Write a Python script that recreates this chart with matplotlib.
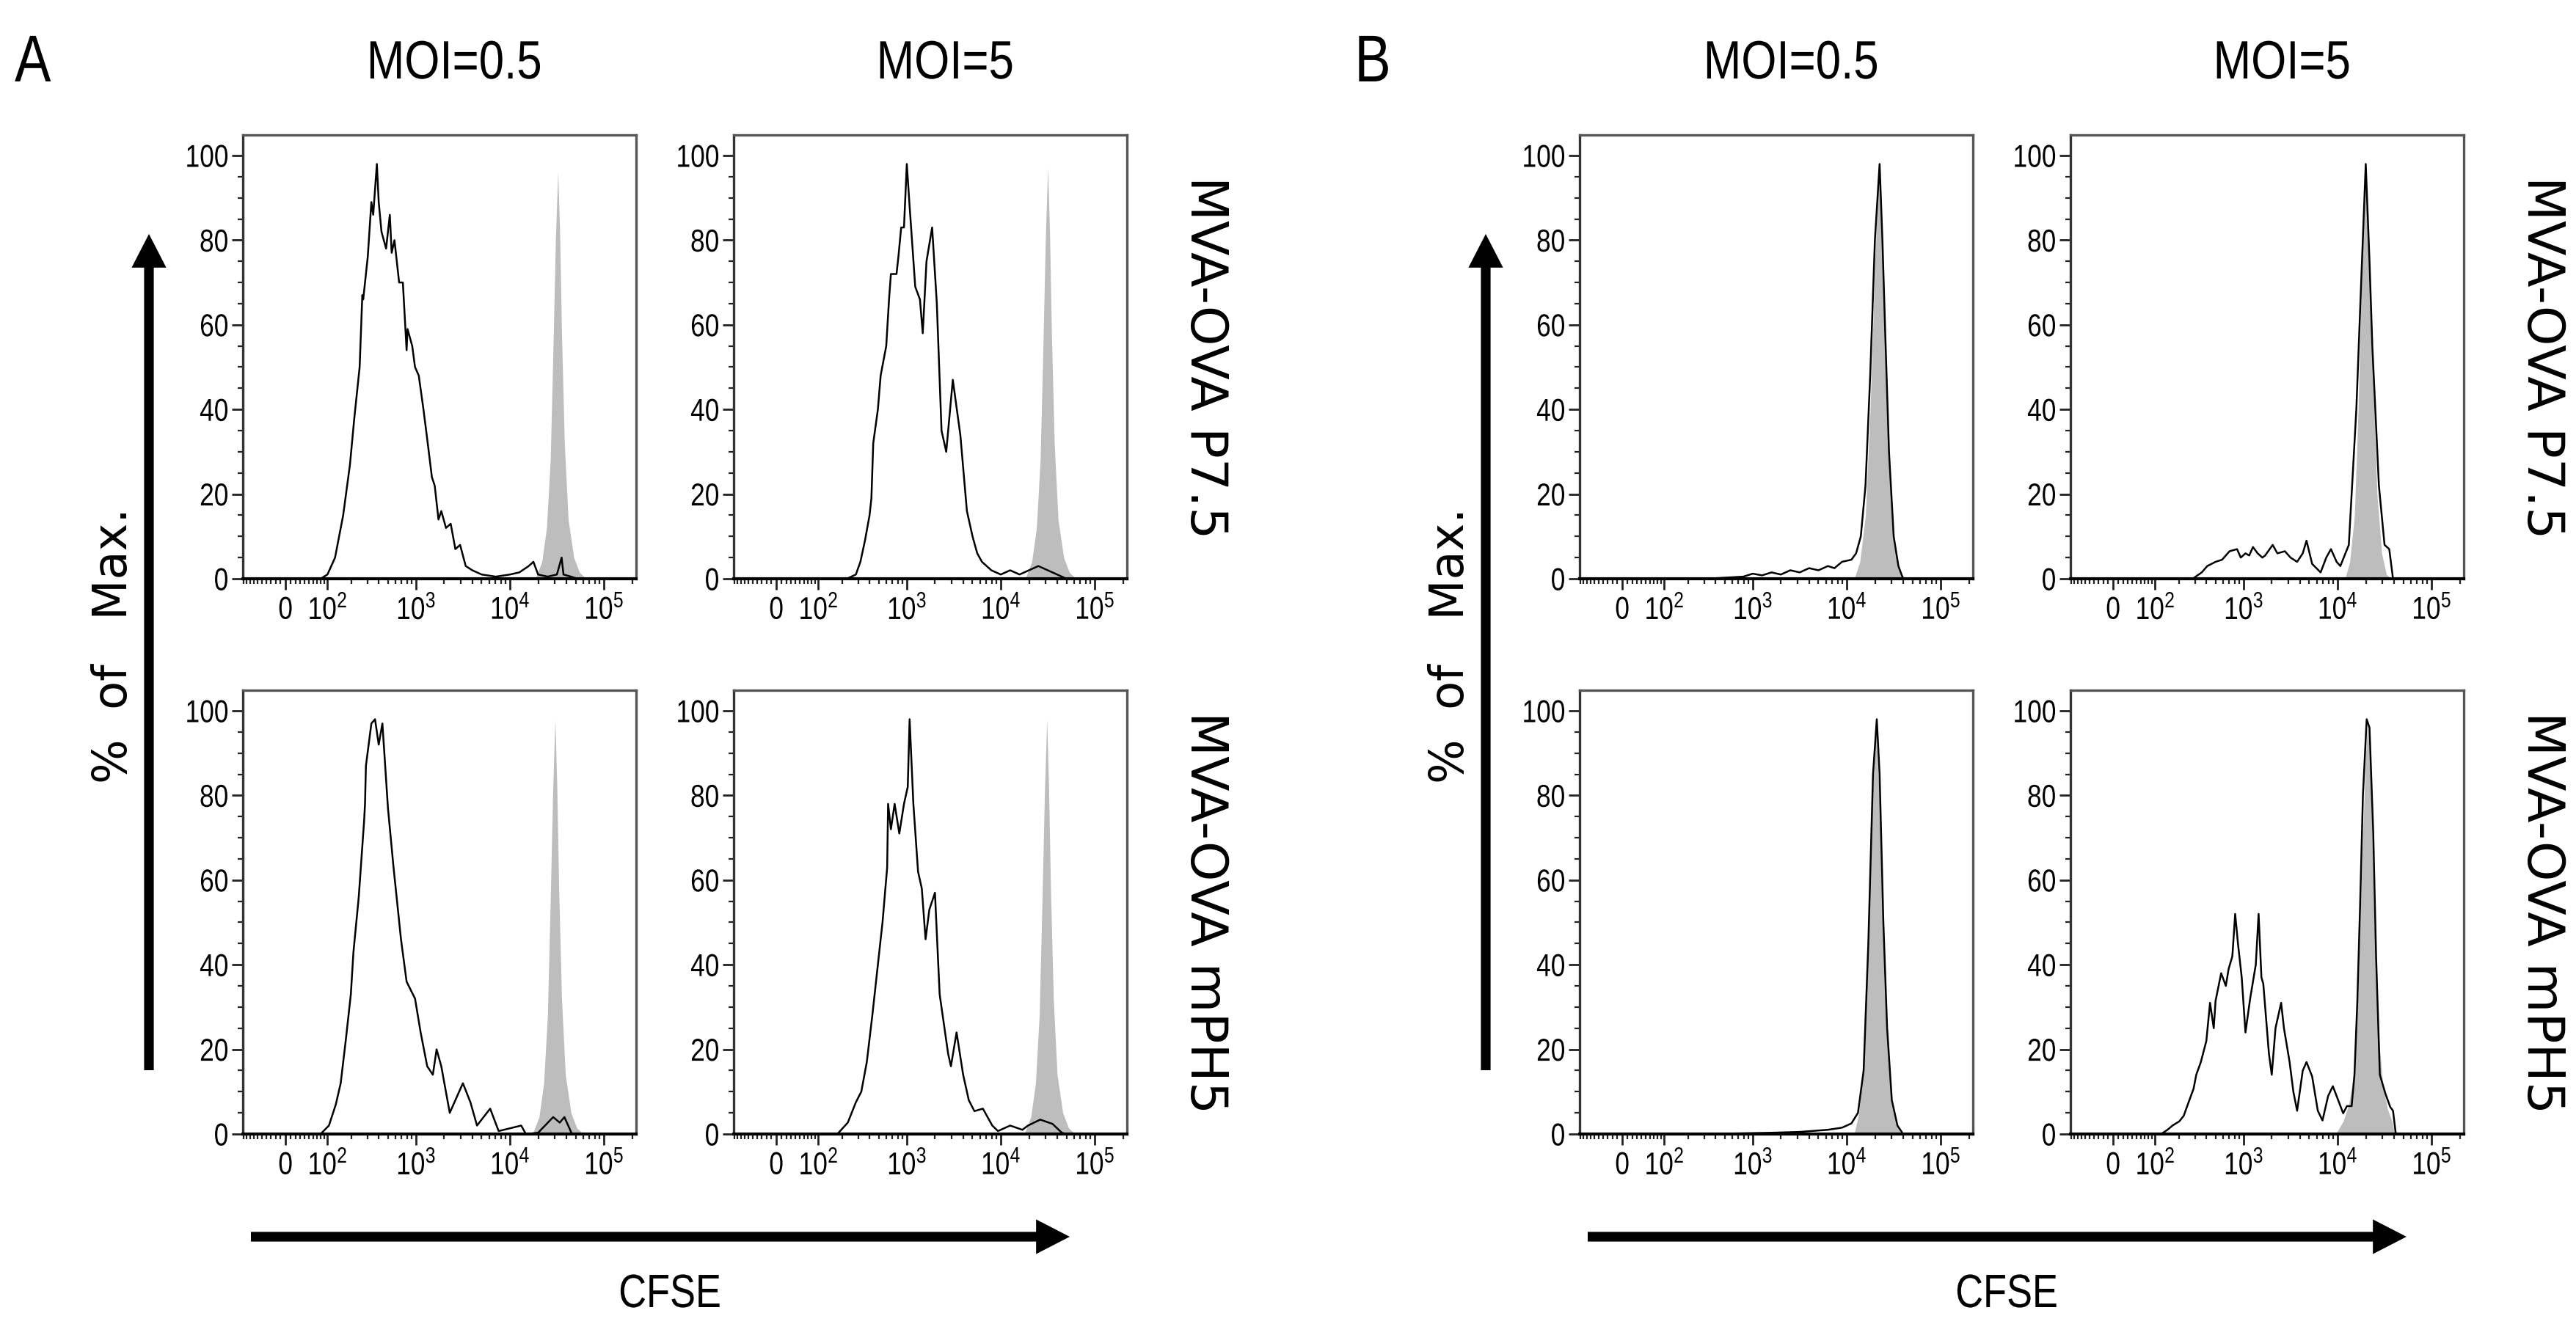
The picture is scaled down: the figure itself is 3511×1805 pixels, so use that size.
import numpy as np
import matplotlib
matplotlib.use("Agg")
import matplotlib.pyplot as plt
from matplotlib.patches import FancyArrowPatch
from matplotlib.patheffects import AbstractPathEffect
from matplotlib.transforms import Affine2D
from matplotlib.ticker import FixedLocator, FixedFormatter

plt.rcParams['font.family'] = ['Liberation Sans', 'DejaVu Sans']
plt.rcParams['mathtext.fontset'] = 'custom'
plt.rcParams['mathtext.rm'] = 'Liberation Sans'
plt.rcParams['mathtext.it'] = 'Liberation Sans'
plt.rcParams['mathtext.bf'] = 'Liberation Sans'

# ---- data (CFSE as log10 value, % of max) ----
CFSE_MIN = -100
CFSE_MAX = 220000

moi_labels = ["MOI=0.5", "MOI=5"]
row_labels = ["MVA-OVA P7.5", "MVA-OVA mPH5"]
xtick_vals = [0, 1e2, 1e3, 1e4, 1e5]
xtick_labels = ["0", r"$10^{2}$", r"$10^{3}$", r"$10^{4}$", r"$10^{5}$"]
ytick_vals = [0, 20, 40, 60, 80, 100]

# panel A, row P7.5, MOI 0.5
a_p75_m05_log = [1.9, 2.0, 2.1, 2.2, 2.28, 2.33, 2.39, 2.42, 2.43, 2.48, 2.52, 2.54, 2.58, 2.60, 2.63,
                 2.68, 2.72, 2.74, 2.77, 2.82, 2.86, 2.90, 2.91, 2.96, 2.99, 3.03, 3.08, 3.12, 3.17,
                 3.20, 3.24, 3.27, 3.32, 3.37, 3.42, 3.47, 3.53, 3.60, 3.70, 3.85, 4.0, 4.1, 4.2,
                 4.25, 4.3, 4.4, 4.5, 4.55, 4.57, 4.65, 4.72]
a_p75_m05_pct = [0, 1, 5, 15, 27, 38, 50, 67, 66, 76, 89, 86, 98, 89, 82,
                 78, 86, 77, 80, 70, 70, 54, 59, 55, 50, 48, 40, 33, 24,
                 22, 14, 16, 12, 13, 7, 8, 3, 2, 1, 0.5, 1, 1.5, 3,
                 4, 1, 0.5, 1, 5, 1, 0.5, 0]
a_p75_m05_ctl_log = [4.27, 4.34, 4.39, 4.43, 4.46, 4.485, 4.51, 4.53, 4.55, 4.58, 4.62, 4.68, 4.74, 4.81]
a_p75_m05_ctl_pct = [0, 4, 12, 28, 55, 80, 96, 82, 58, 32, 14, 5, 1.5, 0]

# panel A, row P7.5, MOI 5
a_p75_m5_log = [2.35, 2.45, 2.5, 2.55, 2.6, 2.62, 2.64, 2.69, 2.72, 2.78, 2.81, 2.83, 2.89, 2.91, 2.94,
                2.97, 3.0, 3.03, 3.09, 3.14, 3.17, 3.21, 3.27, 3.32, 3.37, 3.42, 3.49, 3.57, 3.64,
                3.7, 3.75, 3.8, 3.85, 3.9, 4.0, 4.1, 4.2, 4.3, 4.4, 4.5, 4.6, 4.7]
a_p75_m5_pct = [0, 1, 4, 9, 15, 19, 32, 40, 48, 55, 66, 72, 72, 76, 83,
                83, 98, 88, 69, 66, 58, 75, 83, 65, 35, 30, 47, 34, 16,
                10, 6, 4, 3, 2, 1, 2, 1, 2, 3, 2, 1, 0]
a_p75_m5_ctl_log = [4.26, 4.33, 4.38, 4.42, 4.45, 4.475, 4.50, 4.52, 4.54, 4.57, 4.61, 4.67, 4.73, 4.80]
a_p75_m5_ctl_pct = [0, 4, 12, 28, 55, 80, 97, 82, 58, 32, 14, 5, 1.5, 0]

# panel A, row mPH5, MOI 0.5
a_ph5_m05_log = [1.9, 2.02, 2.11, 2.17, 2.23, 2.29, 2.32, 2.38, 2.44, 2.45, 2.46, 2.52, 2.56, 2.6, 2.64,
                 2.7, 2.76, 2.84, 2.9, 2.99, 3.05, 3.12, 3.18, 3.22, 3.27, 3.36, 3.5, 3.58, 3.65,
                 3.79, 3.88, 4.01, 4.12, 4.17, 4.3, 4.46, 4.53, 4.58, 4.66]
a_ph5_m05_pct = [0, 2, 7, 12, 22, 33, 43, 56, 74, 78, 87, 97, 98, 92, 97,
                 77, 63, 46, 36, 32, 24, 16, 14, 20, 16, 5, 12, 7.5, 2,
                 6, 0.7, 1.4, 2, 0, 0.3, 4, 2.7, 4, 0]
a_ph5_m05_ctl_log = [4.24, 4.31, 4.36, 4.40, 4.43, 4.455, 4.48, 4.50, 4.52, 4.55, 4.59, 4.65, 4.71, 4.78]
a_ph5_m05_ctl_pct = [0, 4, 12, 28, 55, 80, 98, 82, 58, 32, 14, 5, 1.5, 0]

# panel A, row mPH5, MOI 5
a_ph5_m5_log = [2.24, 2.36, 2.45, 2.51, 2.57, 2.63, 2.69, 2.74, 2.79, 2.8, 2.83, 2.87, 2.92, 2.97, 3.01,
                3.03, 3.07, 3.12, 3.16, 3.2, 3.24, 3.3, 3.35, 3.44, 3.47, 3.53, 3.6, 3.66, 3.72,
                3.81, 3.91, 3.97, 4.1, 4.23, 4.29, 4.42, 4.55, 4.65, 4.7]
a_ph5_m5_pct = [0, 2.7, 7.5, 10, 17, 28, 40, 50, 63, 78, 72, 78, 71, 78, 82,
                98, 78, 62, 58, 46, 53, 57, 33, 19, 16, 24, 14, 8, 5.4,
                6, 2, 0.7, 2, 1, 2, 3.4, 2.4, 0.3, 0]
a_ph5_m5_ctl_log = [4.25, 4.32, 4.37, 4.41, 4.44, 4.465, 4.49, 4.51, 4.53, 4.56, 4.60, 4.66, 4.72, 4.79]
a_ph5_m5_ctl_pct = [0, 4, 12, 28, 55, 80, 98, 82, 58, 32, 14, 5, 1.5, 0]

# panel B, row P7.5, MOI 0.5
b_p75_m05_log = [2.5, 2.9, 3.0, 3.1, 3.2, 3.3, 3.4, 3.5, 3.6, 3.7, 3.8, 3.87, 3.95, 4.05, 4.10,
                 4.15, 4.2, 4.25, 4.3, 4.35, 4.38, 4.41, 4.45, 4.5, 4.55, 4.6]
b_p75_m05_pct = [0, 0.5, 1.2, 0.8, 1.5, 1, 2, 1.5, 2.5, 2, 3, 2.5, 4, 4.5, 6,
                 10, 22, 48, 80, 98, 80, 58, 30, 10, 3, 0]
b_p75_m05_ctl_log = [4.08, 4.14, 4.2, 4.25, 4.3, 4.34, 4.38, 4.42, 4.46, 4.5, 4.56, 4.62]
b_p75_m05_ctl_pct = [0, 4, 15, 40, 75, 95, 78, 50, 22, 8, 2, 0]

# panel B, row P7.5, MOI 5
b_p75_m5_log = [2.45, 2.55, 2.61, 2.7, 2.77, 2.85, 2.93, 2.97, 3.02, 3.06, 3.10, 3.15, 3.2, 3.23, 3.31,
                3.36, 3.44, 3.5, 3.57, 3.63, 3.67, 3.73, 3.82, 3.88, 3.93, 3.99, 4.03, 4.12, 4.2,
                4.26, 4.30, 4.34, 4.37, 4.44, 4.5, 4.55, 4.59]
b_p75_m5_pct = [0, 1.5, 3, 4, 4.5, 6.5, 7, 5, 6, 5.5, 7.5, 6, 5, 5.5, 8,
                6, 6.5, 5, 4, 6, 9, 3.5, 1.5, 5, 7, 4, 3, 8, 40,
                75, 98, 75, 55, 22, 8, 7, 0]
b_p75_m5_ctl_log = [4.08, 4.13, 4.18, 4.22, 4.26, 4.30, 4.34, 4.38, 4.42, 4.47, 4.52, 4.57]
b_p75_m5_ctl_pct = [0, 4, 15, 40, 75, 95, 75, 45, 20, 6, 1, 0]

# panel B, row mPH5, MOI 0.5
b_ph5_m05_log = [2.5, 3.2, 3.5, 3.8, 3.95, 4.05, 4.12, 4.18, 4.23, 4.28, 4.32, 4.35, 4.39, 4.43, 4.48,
                 4.54, 4.6]
b_ph5_m05_pct = [0, 0.3, 0.5, 1, 1.5, 2.5, 5, 15, 45, 85, 98, 85, 50, 25, 8,
                 2, 0]
b_ph5_m05_ctl_log = [4.08, 4.13, 4.18, 4.23, 4.27, 4.31, 4.35, 4.39, 4.43, 4.48, 4.53, 4.58]
b_ph5_m05_ctl_pct = [0, 5, 16, 45, 78, 96, 78, 48, 22, 7, 2, 0]

# panel B, row mPH5, MOI 5
b_ph5_m5_log = [2.08, 2.16, 2.22, 2.30, 2.35, 2.41, 2.46, 2.49, 2.54, 2.60, 2.64, 2.68, 2.70, 2.76, 2.81,
                2.84, 2.88, 2.91, 2.94, 2.98, 3.02, 3.07, 3.13, 3.16, 3.19, 3.21, 3.27, 3.30, 3.34,
                3.40, 3.43, 3.49, 3.53, 3.57, 3.63, 3.67, 3.73, 3.79, 3.84, 3.90, 3.95, 4.00, 4.06,
                4.10, 4.15, 4.18, 4.21, 4.24, 4.27, 4.31, 4.34, 4.38, 4.41, 4.45, 4.51, 4.56, 4.59, 4.62]
b_ph5_m5_pct = [0, 1, 2, 3, 4.3, 7.8, 10.7, 14, 17, 22, 31, 25, 31.5, 38, 35,
                39, 42, 52, 45, 37, 24, 32, 40, 52, 37, 35.5, 19, 14, 25,
                31, 25, 17, 10, 5.5, 15, 17, 13.6, 5.5, 3.2, 9, 11.3, 8.4, 4.9,
                6.6, 6.6, 14, 31, 54, 80, 98, 96, 71, 42, 14, 9.5, 6.4, 5.5, 0]
b_ph5_m5_ctl_log = [3.98, 4.06, 4.12, 4.18, 4.22, 4.26, 4.30, 4.32, 4.35, 4.39, 4.43, 4.48, 4.53, 4.58, 4.61]
b_ph5_m5_ctl_pct = [0, 3, 7, 15, 35, 65, 90, 97, 85, 50, 25, 12, 6, 3, 0]

panels = {
    ("A", 0, 0): (a_p75_m05_log, a_p75_m05_pct, a_p75_m05_ctl_log, a_p75_m05_ctl_pct),
    ("A", 0, 1): (a_p75_m5_log, a_p75_m5_pct, a_p75_m5_ctl_log, a_p75_m5_ctl_pct),
    ("A", 1, 0): (a_ph5_m05_log, a_ph5_m05_pct, a_ph5_m05_ctl_log, a_ph5_m05_ctl_pct),
    ("A", 1, 1): (a_ph5_m5_log, a_ph5_m5_pct, a_ph5_m5_ctl_log, a_ph5_m5_ctl_pct),
    ("B", 0, 0): (b_p75_m05_log, b_p75_m05_pct, b_p75_m05_ctl_log, b_p75_m05_ctl_pct),
    ("B", 0, 1): (b_p75_m5_log, b_p75_m5_pct, b_p75_m5_ctl_log, b_p75_m5_ctl_pct),
    ("B", 1, 0): (b_ph5_m05_log, b_ph5_m05_pct, b_ph5_m05_ctl_log, b_ph5_m05_ctl_pct),
    ("B", 1, 1): (b_ph5_m5_log, b_ph5_m5_pct, b_ph5_m5_ctl_log, b_ph5_m5_ctl_pct),
}


class Narrow(AbstractPathEffect):
    """squeeze text glyphs sideways (no condensed font installed)"""

    def __init__(self, sx=0.82, anchor='center'):
        super().__init__()
        self.sx = sx
        self.anchor = anchor

    def draw_path(self, renderer, gc, tpath, affine, rgbFace=None):
        ext = tpath.get_extents()
        if self.anchor == 'right':
            cx = ext.x1
        elif self.anchor == 'left':
            cx = ext.x0
        else:
            cx = (ext.x0 + ext.x1) / 2
        squeeze = Affine2D().translate(-cx, 0).scale(self.sx, 1).translate(cx, 0)
        renderer.draw_path(gc, tpath, squeeze + affine, rgbFace)


# ---- layout (pixels) ----
W, H = 3511, 1806
PW, PH = 536, 605
col_left = {"A": [331, 1000], "B": [2153, 2822]}
row_top = [185, 942]

fig = plt.figure(figsize=(W / 100, H / 100), dpi=100)


def fx(px):
    return px / W


def fy(py):
    return 1 - py / H


minor_x = ([-v for v in range(10, 101, 10)] + list(range(10, 100, 10)) + list(range(200, 1000, 100))
           + list(range(2000, 10000, 1000)) + list(range(20000, 100000, 10000)) + [200000])

for (panel, r, c), (blog, bpct, glog, gpct) in panels.items():
    left = col_left[panel][c]
    top = row_top[r]
    ax = fig.add_axes([fx(left), fy(top + PH), PW / W, PH / H])
    ax.set_xscale('asinh', linear_width=82)

    gx = np.r_[CFSE_MIN, 10 ** np.array(glog), CFSE_MAX]
    gy = np.r_[0, gpct, 0]
    ax.fill_between(gx, gy, 0, color='#bdbdbd', lw=0, zorder=1)

    bx = np.r_[CFSE_MIN, 10 ** np.array(blog), CFSE_MAX]
    by = np.r_[0, bpct, 0]
    ax.plot(bx, by, color='black', lw=1.8, zorder=2, clip_on=False)

    ax.set_xlim(CFSE_MIN - 2, CFSE_MAX)
    ax.set_ylim(0, 104.85)

    ax.xaxis.set_major_locator(FixedLocator(xtick_vals))
    ax.xaxis.set_major_formatter(FixedFormatter(xtick_labels))
    ax.xaxis.set_minor_locator(FixedLocator(minor_x))
    ax.set_yticks(ytick_vals)
    ax.set_yticks(np.arange(0, 101, 5), minor=True)
    ax.set_yticklabels([str(v) for v in ytick_vals])

    ax.tick_params(which='major', direction='out', length=11, width=2.0, labelsize=31,
                   pad=6, color='#222222')
    ax.tick_params(which='minor', direction='out', length=5, width=1.6, color='#222222')
    ax.tick_params(axis='y', which='major', pad=3)
    for t in ax.get_xticklabels():
        t.set_path_effects([Narrow(0.82, 'center')])
    for t in ax.get_yticklabels():
        t.set_path_effects([Narrow(0.82, 'right')])

    for side in ['top', 'right']:
        ax.spines[side].set_color('#555555')
        ax.spines[side].set_linewidth(2.4)
    ax.spines['left'].set_color('#333333')
    ax.spines['left'].set_linewidth(2.4)
    ax.spines['bottom'].set_color('black')
    ax.spines['bottom'].set_linewidth(3.0)

arrow_style = 'simple,head_length=3.3,head_width=3.4,tail_width=0.95'

for panel in ["A", "B"]:
    # column headers
    for c, lab in enumerate(moi_labels):
        fig.text(fx(col_left[panel][c] + PW / 2 + 20), fy(108), lab, fontsize=53,
                 ha='center', va='baseline', path_effects=[Narrow(0.84)])
    # row labels on the right
    for r, lab in enumerate(row_labels):
        fig.text(fx(col_left[panel][1] + PW + 107), fy(row_top[r] + PH / 2), lab,
                 rotation=-90, ha='center', va='center', fontsize=50, family='DejaVu Sans')
    # y axis label and arrow
    x0 = col_left[panel][0]
    fig.text(fx(x0 - 176), fy(880), "%  of   Max.", rotation=90, ha='center', va='center',
             fontsize=46, family='DejaVu Sans')
    fig.add_artist(FancyArrowPatch((fx(x0 - 128), fy(1460)), (fx(x0 - 128), fy(320)),
                                   transform=fig.transFigure, shrinkA=0, shrinkB=0,
                                   arrowstyle=arrow_style, mutation_scale=10, color='black', lw=0))
    # x axis label and arrow
    fig.add_artist(FancyArrowPatch((fx(x0 + 11), fy(1687)), (fx(x0 + 1127), fy(1687)),
                                   transform=fig.transFigure, shrinkA=0, shrinkB=0,
                                   arrowstyle=arrow_style, mutation_scale=10, color='black', lw=0))
    fig.text(fx(x0 + 582), fy(1783), "CFSE", fontsize=46, ha='center', va='baseline',
             path_effects=[Narrow(0.82)])

fig.text(fx(20), fy(112), "A", fontsize=65, ha='left', va='baseline', path_effects=[Narrow(0.82, 'left')])
fig.text(fx(1845), fy(112), "B", fontsize=65, ha='left', va='baseline', path_effects=[Narrow(0.82, 'left')])

fig.savefig("out.png", dpi=100, facecolor='white')
